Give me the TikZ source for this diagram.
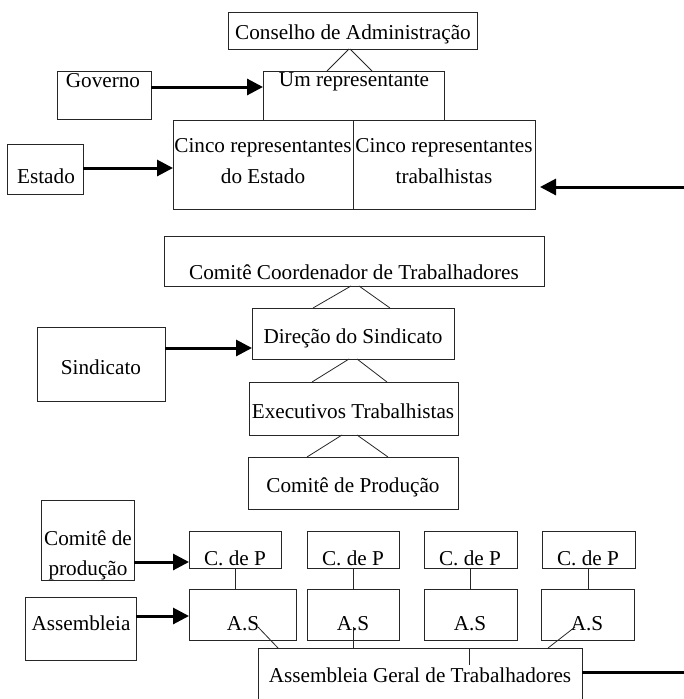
\documentclass[tikz,border=0pt]{standalone}
\usepackage{fontspec}
\setmainfont{Liberation Serif}
\usetikzlibrary{arrows.meta}
\tikzset{
  box/.style={draw=black!85, line width=0.9pt, rectangle, inner sep=0pt, outer sep=0pt, anchor=north west},
  lbl/.style={anchor=base, inner sep=0pt, outer sep=0pt, font=\fontsize{21.2}{25}\selectfont},
  link/.style={draw=black!85, line width=0.8pt},
  arr/.style={line width=3pt, -{Triangle[length=16pt,width=16pt]}},
  bar/.style={line width=3pt},
}
\begin{document}
\begin{tikzpicture}[x=1pt,y=-1pt]
\useasboundingbox (0,0) rectangle (684,699);
% boxes
\node[box, minimum width=249pt, minimum height=37pt] (conselho) at (228,12) {};
\node[box, minimum width=181pt, minimum height=49pt] (um) at (263,71) {};
\node[box, minimum width=94pt, minimum height=48pt] (governo) at (57,71) {};
\node[box, minimum width=180pt, minimum height=89pt] (cincoL) at (173,120) {};
\node[box, minimum width=182pt, minimum height=89pt] (cincoR) at (353,120) {};
\node[box, minimum width=76pt, minimum height=50pt] (estado) at (7,144) {};
\node[box, minimum width=380pt, minimum height=50pt] (coord) at (164,236) {};
\node[box, minimum width=202pt, minimum height=51pt] (direcao) at (252,308) {};
\node[box, minimum width=128pt, minimum height=74pt] (sindicato) at (37,327) {};
\node[box, minimum width=209pt, minimum height=53pt] (exec) at (249,382) {};
\node[box, minimum width=210pt, minimum height=52pt] (comprod) at (248,457) {};
\node[box, minimum width=93pt, minimum height=80pt] (comleft) at (41,500) {};
\node[box, minimum width=92pt, minimum height=37pt] (cdp1) at (189,531) {};
\node[box, minimum width=92pt, minimum height=37pt] (cdp2) at (307,531) {};
\node[box, minimum width=93pt, minimum height=37pt] (cdp3) at (424,531) {};
\node[box, minimum width=93pt, minimum height=37pt] (cdp4) at (542,531) {};
\node[box, minimum width=107pt, minimum height=51pt] (as1) at (189,589) {};
\node[box, minimum width=92pt, minimum height=51pt] (as2) at (307,589) {};
\node[box, minimum width=93pt, minimum height=51pt] (as3) at (424,589) {};
\node[box, minimum width=93pt, minimum height=51pt] (as4) at (541,589) {};
\node[box, minimum width=111pt, minimum height=63pt] (assembleia) at (25,597) {};
\node[box, minimum width=324pt, minimum height=80pt] (agt) at (258,648) {};
% texts
\node[lbl] (tconselho) at (353,39) {Conselho de Administração};
\node[lbl] (tum) at (354,86) {Um representante};
\node[lbl] (tgoverno) at (103,87) {Governo};
\node[lbl] (tcl1) at (263,152) {Cinco representantes};
\node[lbl] (tcl2) at (263,183) {do Estado};
\node[lbl] (tcr1) at (444,152) {Cinco representantes};
\node[lbl] (tcr2) at (444,183) {trabalhistas};
\node[lbl] (testado) at (46,183) {Estado};
\node[lbl] (tcoord) at (354,279) {Comitê Coordenador de Trabalhadores};
\node[lbl] (tdirecao) at (353,343) {Direção do Sindicato};
\node[lbl] (tsindicato) at (101,374) {Sindicato};
\node[lbl] (texec) at (353,418) {Executivos Trabalhistas};
\node[lbl] (tcomprod) at (353,492) {Comitê de Produção};
\node[lbl] (tcomleft1) at (88,545) {Comitê de};
\node[lbl] (tcomleft2) at (88,575) {produção};
\node[lbl] (tcdp1) at (235,565) {C. de P};
\node[lbl] (tcdp2) at (353,565) {C. de P};
\node[lbl] (tcdp3) at (470,565) {C. de P};
\node[lbl] (tcdp4) at (588,565) {C. de P};
\node[lbl] (tas1) at (243,630) {A.S};
\node[lbl] (tas2) at (353,630) {A.S};
\node[lbl] (tas3) at (470,630) {A.S};
\node[lbl] (tas4) at (587,630) {A.S};
\node[lbl] (tassembleia) at (81,630) {Assembleia};
\node[lbl] (tagt) at (420,682) {Assembleia Geral de Trabalhadores};
% thin connectors
\draw[link] (349,0 |- conselho.south) -- (327,0 |- um.north);
\draw[link] (350,0 |- conselho.south) -- (372,0 |- um.north);
\draw[link] (351,0 |- coord.south) -- (313,0 |- direcao.north);
\draw[link] (359,0 |- coord.south) -- (390,0 |- direcao.north);
\draw[link] (349,0 |- direcao.south) -- (312,0 |- exec.north);
\draw[link] (357,0 |- direcao.south) -- (387,0 |- exec.north);
\draw[link] (342,0 |- exec.south) -- (307,0 |- comprod.north);
\draw[link] (357,0 |- exec.south) -- (388,0 |- comprod.north);
\draw[link] (cdp1.south) -- (cdp1.south |- as1.north);
\draw[link] (cdp2.south) -- (cdp2.south |- as2.north);
\draw[link] (cdp3.south) -- (cdp3.south |- as3.north);
\draw[link] (cdp4.south) -- (cdp4.south |- as4.north);
\draw[link] ([shift={(69,-13)}]as1.south west) -- (278,0 |- agt.north);
\draw[link] ([yshift=13pt]as2.south) -- (as2.south |- agt.north);
\draw[link] (469,0 |- agt.north) -- ++(0,17);
\draw[link] (548,0 |- agt.north) -- ([shift={(34,-13)}]as4.south west);
% thick arrows
\draw[arr] (governo.east |- 0,87) -- (um.west |- 0,87);
\draw[arr] (estado.east |- 0,168) -- (cincoL.west |- 0,168);
\coordinate (rin) at (684,187);
\draw[arr, shorten >=5pt] (rin) -- (cincoR.east |- rin);
\draw[arr] (sindicato.east |- 0,348) -- (direcao.west |- 0,348);
\draw[arr] (comleft.east |- 0,562) -- (cdp1.west |- 0,562);
\draw[arr] (assembleia.east |- 0,616) -- (as1.west |- 0,616);
\coordinate (rout) at (684,672);
\draw[bar] (agt.east |- rout) -- (rout);
\end{tikzpicture}
\end{document}
